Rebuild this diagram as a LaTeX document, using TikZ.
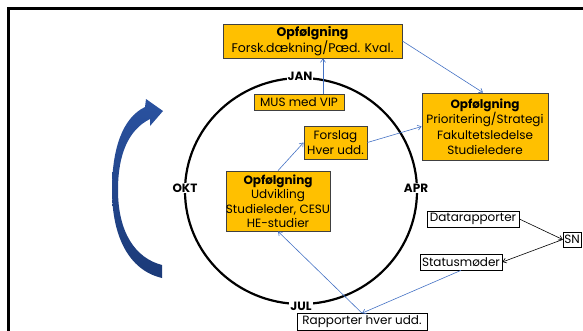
\documentclass[tikz,border=0pt]{standalone}
\usepackage{fontspec}
\setmainfont{Poppins}
\usetikzlibrary{arrows.meta}
\definecolor{boxorange}{HTML}{FFC000}
\definecolor{boxedge}{HTML}{404040}
\definecolor{linkblue}{HTML}{4472C4}
\definecolor{arcblueA}{HTML}{2A52A0}
\definecolor{arcblueB}{HTML}{1B3A78}
\tikzset{
  obox/.style={draw=boxedge, line width=0.8pt, fill=boxorange, align=center, inner sep=0pt,
    font=\fontsize{12}{14.5}\selectfont},
  wbox/.style={draw=black, line width=0.7pt, fill=white, align=center, inner sep=0pt,
    font=\fontsize{12}{14}\selectfont},
  mlabel/.style={fill=white, inner sep=1pt, font=\fontsize{12}{13}\selectfont\bfseries},
  link/.style={draw=linkblue, line width=0.6pt, -{Straight Barb[length=3.5pt,width=5pt]}},
  blink/.style={draw=black, line width=0.6pt, -{Straight Barb[length=3.5pt,width=5pt]}},
}
\newcommand{\hd}[1]{{\bfseries #1}}
\begin{document}
\begin{tikzpicture}[x=1pt,y=-1pt]
\useasboundingbox (0,0) rectangle (583,330);
% frame
\draw[line width=3pt] (8.5,340) -- (8.5,8.5) -- (600,8.5);
% curved arrow
\shade[top color=arcblueA, bottom color=arcblueB]
  (162,278) .. controls (128,270) and (112,235) .. (112,190)
  .. controls (112,150) and (122,118) .. (145,107)
  -- (146,99) -- (163,111) -- (150,126) -- (150,119)
  .. controls (128,130) and (118,155) .. (118,190)
  .. controls (118,232) and (135,258) .. (162,265) -- cycle;
% circle
\draw[line width=2.2pt] (301,191) ellipse [x radius=116, y radius=113];
\node[mlabel] (jan) at (300,76) {JAN};
\node[mlabel] (okt) at (185,188) {OKT};
\node[mlabel] (apr) at (416,188) {APR};
\node[mlabel] (jul) at (301,306) {JUL};
% boxes
\node[obox, minimum width=179pt, minimum height=34pt, font=\fontsize{12.5}{14.5}\selectfont] (top) at (312.5,41)
  {\hd{Opfølgning}\\Forsk.dækning/Pæd. Kval.};
\node[obox, minimum width=126pt, minimum height=67pt, font=\fontsize{12}{15.5}\selectfont] (right) at (485,126.5)
  {\hd{Opfølgning}\\Prioritering/Strategi\\Fakultetsledelse\\Studieledere};
\node[obox, minimum width=90pt, minimum height=16pt] (mus) at (299,102) {MUS med VIP};
\node[obox, minimum width=63pt, minimum height=33pt] (forslag) at (335.5,142.5)
  {Forslag\\Hver udd.};
\node[obox, minimum width=104pt, minimum height=60pt] (udv) at (278,201)
  {\hd{Opfølgning}\\Udvikling\\Studieleder, CESU\\HE-studier};
\node[wbox, minimum width=92pt, minimum height=16pt] (data) at (473,219) {Datarapporter};
\node[wbox, minimum width=18pt, minimum height=15pt] (sn) at (572,239.5) {SN};
\node[wbox, minimum width=82pt, minimum height=16pt] (status) at (461,262) {Statusmøder};
\node[wbox, minimum width=130pt, minimum height=17pt] (rapp) at (362,322) {Rapporter hver udd.};
% connectors
\draw[link] ([xshift=24pt]mus.north) -- ([xshift=24pt]mus.north |- top.south);
\draw[link] (top.east) -- ([xshift=-2pt]right.north);
\draw[link] (forslag.east) -- (right.west);
\draw[link] (udv.north) -- (forslag.west);
\draw[link] (rapp.north) -- (udv.south);
\draw[link] (status.south) -- (rapp.north);
\draw[blink] (data.east) -- (sn.west);
\draw[blink] (sn.west) -- (status.east);
\end{tikzpicture}
\end{document}
